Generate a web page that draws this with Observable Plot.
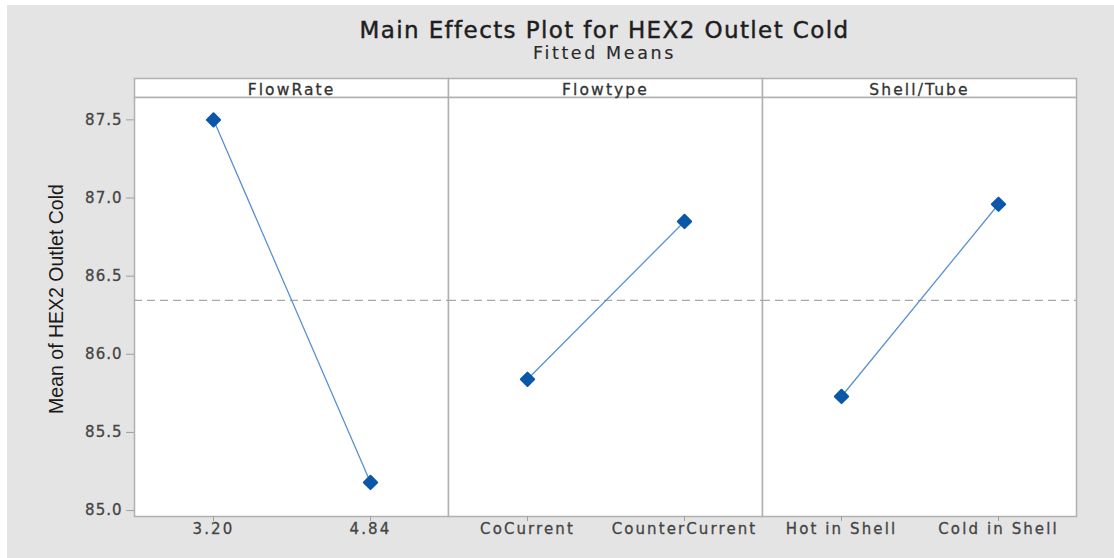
<!DOCTYPE html>
<html>
<head>
<meta charset="utf-8">
<script src="https://cdn.jsdelivr.net/npm/d3@7"></script>
<script src="https://cdn.jsdelivr.net/npm/@observablehq/plot@0.6"></script>
<style>
  html, body { margin: 0; padding: 0; background: #ffffff; }
  #wrap { position: absolute; left: 7px; top: 5px; width: 1107px; height: 553px; background: #e4e4e4; overflow: hidden; }
  #title { position: absolute; left: 126px; width: 943px; top: 12px; text-align: center; font-family: "DejaVu Sans", sans-serif; font-size: 23px; letter-spacing: 1.4px; color: #1e1e1e; -webkit-text-stroke: 0.45px #1e1e1e; line-height: 26px; }
  #subtitle { position: absolute; left: 126px; width: 943px; top: 39px; text-align: center; font-family: "DejaVu Sans", sans-serif; font-size: 17.5px; letter-spacing: 2.6px; color: #2a2a2a; -webkit-text-stroke: 0.15px #2a2a2a; line-height: 18px; }
  #chart { position: absolute; left: 0; top: 57px; }
  #chart svg text { letter-spacing: 1px; }
  #chart g[aria-label="fx-axis tick label"] text, #chart g[aria-label="text"] text { letter-spacing: 2.1px; }
  #chart g[aria-label="y-axis tick label"] text, #chart g[aria-label="text"] text { stroke: #444; stroke-width: 0.3px; }
  #chart g[aria-label="fx-axis tick label"] text { stroke: #333; stroke-width: 0.3px; }
  #chart g.ylab text { letter-spacing: 0; stroke: none; }
</style>
</head>
<body>
<div id="wrap">
  <div id="title">Main Effects Plot for HEX2 Outlet Cold</div>
  <div id="subtitle">Fitted Means</div>
  <div id="chart"></div>
</div>
<script>
const factors = ["FlowRate", "Flowtype", "Shell/Tube"];
const flowRateLevels = ["3.20", "4.84"];
const flowRateMeans = [87.50, 85.18];
const flowtypeLevels = ["CoCurrent", "CounterCurrent"];
const flowtypeMeans = [85.84, 86.85];
const shellTubeLevels = ["Hot in Shell", "Cold in Shell"];
const shellTubeMeans = [85.73, 86.96];
const overallMean = 86.345;
const yTicks = [85.0, 85.5, 86.0, 86.5, 87.0, 87.5];
const yLabel = "Mean of HEX2 Outlet Cold";

const levelSets = [flowRateLevels, flowtypeLevels, shellTubeLevels];
const meanSets = [flowRateMeans, flowtypeMeans, shellTubeMeans];
const rows = [];
factors.forEach((f, k) => {
  levelSets[k].forEach((lv, i) => rows.push({factor: f, idx: i, level: lv, mean: meanSets[k][i]}));
});

const W = 1107, H = 496, mT = 35, mB = 42, mL = 126, mR = 38;
const innerH = H - mT - mB;

const chart = Plot.plot({
  width: W, height: H,
  marginTop: mT, marginBottom: mB, marginLeft: mL, marginRight: mR,
  style: {background: "transparent", fontFamily: "'DejaVu Sans', sans-serif", fontSize: "15px"},
  fx: {domain: factors, padding: 0, axis: null},
  x: {type: "point", domain: [0, 1], padding: 0.5, axis: null},
  y: {domain: [84.962, 87.643], axis: null},
  marks: [
    Plot.frame({fill: "white", stroke: "#b0b0b0", strokeWidth: 1.5, insetTop: -19, insetBottom: innerH}),
    Plot.frame({fill: "white", stroke: "#b0b0b0", strokeWidth: 1.5}),
    Plot.ruleY([overallMean], {stroke: "#a8a8a8", strokeWidth: 1.2, strokeDasharray: "8,5"}),
    Plot.line(rows, {fx: "factor", x: "idx", y: "mean", stroke: "#5b91d3", strokeWidth: 1.3}),
    Plot.dot(rows, {fx: "factor", x: "idx", y: "mean", symbol: "diamond2", r: 6, fill: "#0b57a8", stroke: "#0b57a8", strokeWidth: 2, strokeLinejoin: "round"}),
    Plot.axisFx({anchor: "top", tickSize: 0, tickPadding: 3, label: null, fontSize: 15.5, fill: "#333"}),
    Plot.axisX({ticks: [0, 1], tickSize: 5, tickFormat: () => "", stroke: "#a0a0a0", label: null}),
    Plot.text(rows, {fx: "factor", x: "idx", text: "level", frameAnchor: "bottom", dy: 17, fontSize: 15, fill: "#444"}),
    Plot.axisY({ticks: yTicks, tickFormat: d3.format(".1f"), tickSize: 8, tickPadding: 4, stroke: "#a0a0a0", fill: "#444", fontSize: 15, label: null}),
    Plot.text([yLabel], {fx: () => factors[0], text: d => d, frameAnchor: "left", textAnchor: "middle", rotate: -90, dx: -78, dy: -8,
      fontSize: 19.5, fontFamily: "'Liberation Sans Narrow', 'Liberation Sans', sans-serif", fill: "#1a1a1a", className: "ylab"})
  ]
});
document.getElementById("chart").appendChild(chart);
</script>
</body>
</html>
